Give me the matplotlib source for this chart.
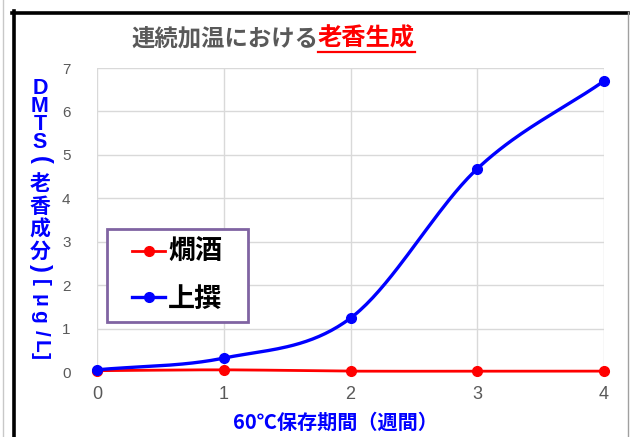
import numpy as np
import matplotlib
matplotlib.use("Agg")
import matplotlib.pyplot as plt
from matplotlib.lines import Line2D
from matplotlib.patches import Rectangle

weeks = [0, 1, 2, 3, 4]
kanzake = [0.03, 0.05, 0.02, 0.02, 0.02]
jousen = [0.05, 0.32, 1.24, 4.68, 6.7]
series_names = ["燗酒", "上撰"]
y_ticks = [0, 1, 2, 3, 4, 5, 6, 7]
title_a = "連続加温における"
title_b = "老香生成"
xlabel = "60℃保存期間（週間）"

FAM = ["Noto Sans CJK JP", "DejaVu Sans"]
LAT = ["Liberation Sans", "DejaVu Sans"]
plt.rcParams["font.family"] = FAM

W, H = 630, 437
fig = plt.figure(figsize=(W / 100, H / 100), dpi=100)

def fx(px):
    return px / W

def fy(py):
    return 1 - py / H

ax = fig.add_axes([fx(97), fy(372), fx(604) - fx(97), fy(68) - fy(372)])


def catmull(xs, ys, n=40):
    xs = np.asarray(xs, float)
    ys = np.asarray(ys, float)
    px = np.concatenate([[2 * xs[0] - xs[1]], xs, [2 * xs[-1] - xs[-2]]])
    py = np.concatenate([[2 * ys[0] - ys[1]], ys, [2 * ys[-1] - ys[-2]]])
    ox, oy = [], []
    for i in range(1, len(px) - 2):
        t = np.linspace(0, 1, n, endpoint=False)
        for arr, out in ((px, ox), (py, oy)):
            p0, p1, p2, p3 = arr[i - 1], arr[i], arr[i + 1], arr[i + 2]
            out.extend(0.5 * ((2 * p1) + (-p0 + p2) * t
                              + (2 * p0 - 5 * p1 + 4 * p2 - p3) * t ** 2
                              + (-p0 + 3 * p1 - 3 * p2 + p3) * t ** 3))
    ox.append(xs[-1])
    oy.append(ys[-1])
    return np.array(ox), np.array(oy)

red = "#FF0000"
blue = "#0000FF"

for vals, col, lw in ((kanzake, red, 2.0), (jousen, blue, 2.4)):
    sx, sy = catmull(weeks, vals)
    ax.plot(sx, sy, color=col, lw=lw, zorder=3, clip_on=False)
    ax.plot(weeks, vals, "o", color=col, ms=7, zorder=4, clip_on=False)

ax.set_xlim(0, 4)
ax.set_ylim(0, 7)
ax.set_xticks(weeks)
ax.set_yticks(y_ticks)
ax.grid(True, color="#D9D9D9", lw=1)
ax.set_axisbelow(True)
for s in ax.spines.values():
    s.set_visible(False)
ax.tick_params(length=0)
ax.tick_params(axis="x", pad=10, labelsize=13, labelcolor="#595959")
ax.tick_params(axis="y", pad=19, labelsize=11, labelcolor="#595959")
for lab in ax.get_xticklabels() + ax.get_yticklabels():
    lab.set_family(LAT)

# legend box + legend
fig.add_artist(Rectangle((fx(107), fy(322)), fx(248) - fx(107), fy(229) - fy(322),
                         transform=fig.transFigure, facecolor="white",
                         edgecolor="#8064A2", lw=2, zorder=5))
handles = [Line2D([], [], color=red, lw=2.0, marker="o", ms=7),
           Line2D([], [], color=blue, lw=2.4, marker="o", ms=7)]
leg = fig.legend(handles, series_names, loc="center left",
                 bbox_to_anchor=(fx(132), fy(275.5)),
                 prop={"family": FAM, "weight": "bold", "size": 19.5},
                 frameon=False, handlelength=1.22, handletextpad=0.11,
                 labelspacing=0.67, borderpad=0, borderaxespad=0)
leg.set_zorder(6)
for t in leg.get_texts():
    t.set_color("black")

# title
tt = fig.text(fx(318), fy(39), title_a, ha="right", va="center",
              fontsize=16.8, fontweight="bold", color="#595959")
tr = fig.text(fx(318), fy(39), title_b, ha="left", va="center",
              fontsize=17.5, fontweight="bold", color=red)
fig.canvas.draw()
bb = tr.get_window_extent()
fig.add_artist(Line2D([bb.x0 / W, bb.x1 / W], [fy(52), fy(52)],
                      color=red, lw=1.6, transform=fig.transFigure))

# x label
fig.text(fx(335), fy(422), xlabel, ha="center", va="center",
         fontsize=14.5, fontweight="bold", color=blue)

# vertical y label
cx = fx(40)
for ch, py in [("D", 88), ("M", 107), ("T", 124), ("S", 142)]:
    fig.text(cx, fy(py), ch, ha="center", va="center", fontsize=15.5,
             fontweight="bold", color=blue, family=LAT)
fig.text(cx, fy(160), "(", ha="center", va="center", fontsize=17,
         fontweight="bold", color=blue, rotation=-90, family=LAT)
for ch, py in [("老", 183), ("香", 206), ("成", 229), ("分", 251)]:
    fig.text(cx, fy(py), ch, ha="center", va="center", fontsize=15,
             fontweight="bold", color=blue)
fig.text(cx, fy(268), ")", ha="center", va="center", fontsize=17,
         fontweight="bold", color=blue, rotation=-90, family=LAT)
for ch, py in [("[", 282), ("μ", 300), ("g", 316), ("/", 333), ("L", 346), ("]", 355)]:
    fig.text(cx, fy(py), ch, ha="center", va="center", fontsize=15,
             fontweight="bold", color=blue, rotation=-90, family=LAT)

# frame
fig.add_artist(Line2D([fx(13.5), fx(13.5)], [fy(11), 0], color="black",
                      lw=2.6, transform=fig.transFigure))
fig.add_artist(Line2D([fx(12), fx(628)], [fy(12.5), fy(12.5)], color="black",
                      lw=2.6, transform=fig.transFigure))
fig.add_artist(Line2D([fx(628), fx(628)], [fy(12), 0], color="#A0A0A0",
                      lw=1, transform=fig.transFigure))
fig.add_artist(Line2D([fx(2.5), fx(2.5)], [fy(0), 0], color="#C8C8C8",
                      lw=1, transform=fig.transFigure))

fig.savefig("out.png", dpi=100)
